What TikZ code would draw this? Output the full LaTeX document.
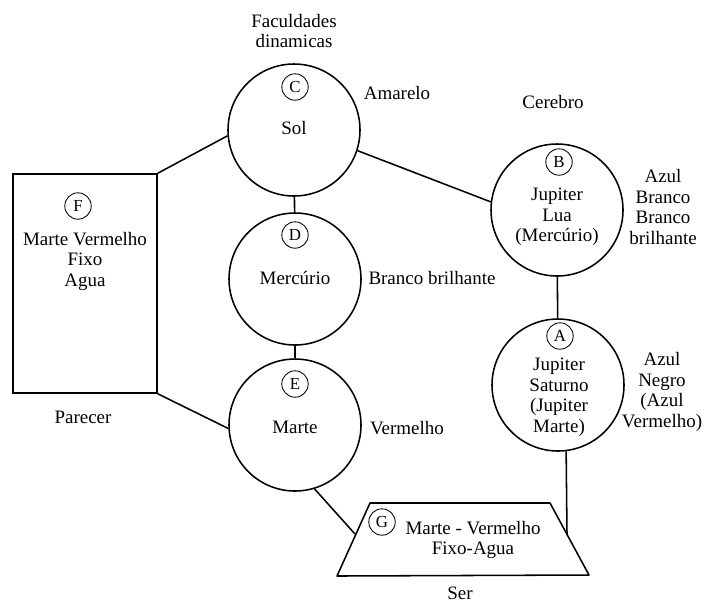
\documentclass[tikz,border=0pt]{standalone}
\usepackage{fontspec}
\setmainfont{Liberation Serif}

\begin{document}
\begin{tikzpicture}[x=0.25mm,y=-0.25mm]

      \tikzset{planeta/.style={draw, circle, line width=1.1pt, minimum size=3.3cm, inner sep=0pt},
               letra/.style={draw, circle, line width=0.6pt, minimum size=0.66cm, inner sep=0pt, font=\fontsize{12}{14}\selectfont},
               texto/.style={align=center, inner sep=0pt, font=\fontsize{13.5}{14.6}\selectfont}}

      \useasboundingbox (0,0) rectangle (707,602);

% Figurer
	%Cirkler
      	\node[planeta] (C) at (294,130) {};
      	\node[planeta] (D) at (295,279) {};
    	\node[planeta] (E) at (295,425) {};
  	    \node[planeta] (B) at (557,210) {};
  	    \node[planeta] (A) at (558,385) {};

	%Firkant
		\node[draw, rectangle, line width=1.1pt, minimum width=3.6cm, minimum height=5.475cm] (F) at (85,283.5) {};

	%Trapez
		\coordinate (G1) at (337,576);
		\coordinate (G2) at (370,503);
		\coordinate (G3) at (550,503);
		\coordinate (G4) at (589,575);
		\coordinate (Gv) at (355,534);
		\coordinate (Gh) at (567,535);
		\draw[line width=1.1pt, line join=round] (G1) -- (G2) -- (G3) -- (G4) -- cycle;

	%Bogstaver
		\node[letra] (lC) at (295,87) {C};
		\node[letra] (lD) at (295,235) {D};
		\node[letra] (lE) at (295,384) {E};
		\node[letra] (lB) at (559,162) {B};
		\node[letra] (lA) at (560,336) {A};
		\node[letra] (lF) at (78,206) {F};
		\node[letra] (lG) at (382,522) {G};

	%Tekster
		\node[texto] (fac) at (294,31) {Faculdades\\dinamicas};
		\node[texto] (sol) at (294,128) {Sol};
		\node[texto] (amarelo) at (397,93) {Amarelo};
		\node[texto] (cerebro) at (553,102) {Cerebro};
		\node[texto] (tB) at (557,217) {Jupiter\\Lua\\(Mercúrio)};
		\node[texto] (cB) at (663,207) {Azul\\Branco\\Branco\\brilhante};
		\node[texto] (merc) at (295,278) {Mercúrio};
		\node[texto] (cD) at (432,278) {Branco brilhante};
		\node[texto] (marte) at (295,427) {Marte};
		\node[texto] (cE) at (407,428) {Vermelho};
		\node[texto] (tA) at (559,397) {Jupiter\\Saturno\\(Jupiter\\Marte)};
		\node[texto] (cA) at (662,392) {Azul\\Negro\\(Azul\\Vermelho)};
		\node[texto] (tF) at (85,261) {Marte Vermelho\\Fixo\\Agua};
		\node[texto] (parecer) at (83,417) {Parecer};
		\node[texto] (tG) at (473,540) {Marte - Vermelho\\Fixo-Agua};
		\node[texto] (ser) at (460,593) {Ser};

%Linjer
		\path[line width=1.1pt] (C) edge (D);
		\path[line width=1.1pt] (D) edge (E);
		\path[line width=1.1pt] (B) edge (A);
		\path[line width=1.1pt] (C.-18) edge (B.173);
		\path[line width=1.1pt] (F.north east) edge (C.185);
		\path[line width=1.1pt] (F.south east) edge (E.183);
		\path[line width=1.1pt] (E.-73) edge (Gv);
		\path[line width=1.1pt] (A.-83) edge (Gh);

	\end{tikzpicture}
\end{document}
